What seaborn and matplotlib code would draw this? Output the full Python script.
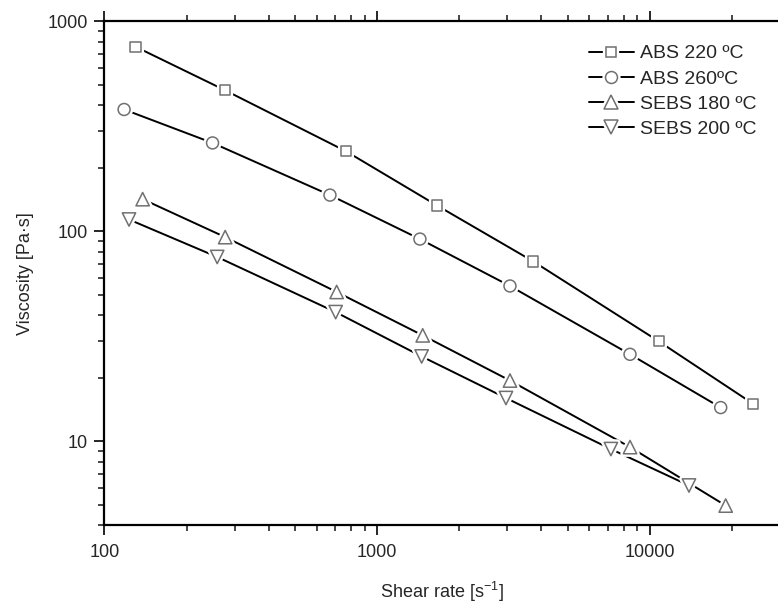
import numpy as np
import pandas as pd
import matplotlib
matplotlib.use("Agg")
import matplotlib.pyplot as plt
import matplotlib.ticker as mticker
from matplotlib.lines import Line2D
from matplotlib.legend_handler import HandlerTuple
import seaborn as sns

# ---- data ----
series_names = ["ABS 220 ºC", "ABS 260ºC", "SEBS 180 ºC", "SEBS 200 ºC"]
abs220_x = [130, 277, 768, 1656, 3734, 10760, 23900]
abs220_y = [758, 470, 241, 133, 72, 30, 15.1]
abs260_x = [118, 249, 671, 1434, 3067, 8450, 18170]
abs260_y = [381, 264, 149, 92, 55, 26, 14.5]
sebs180_x = [138, 277, 710, 1468, 3067, 8450, 18950]
sebs180_y = [142.5, 94, 51.5, 32, 19.5, 9.4, 4.95]
sebs200_x = [123, 259, 704, 1455, 2965, 7190, 13900]
sebs200_y = [114, 75.6, 41.3, 25.4, 16.1, 9.2, 6.17]
x_ticks = [100, 1000, 10000]
y_ticks = [10, 100, 1000]

xs = [abs220_x, abs260_x, sebs180_x, sebs200_x]
ys = [abs220_y, abs260_y, sebs180_y, sebs200_y]
df = pd.concat([pd.DataFrame({"shear": x, "visc": y, "series": n})
                for x, y, n in zip(xs, ys, series_names)], ignore_index=True)

marker_map = dict(zip(series_names, ["s", "o", "^", "v"]))
size_pt = dict(zip(series_names, [7.4, 8.6, 9.6, 9.6]))
sizes = {k: v ** 2 for k, v in size_pt.items()}
edge_gray = "#707070"

sns.set_style("ticks")
plt.rcParams["font.family"] = ["Liberation Sans", "DejaVu Sans"]
plt.rcParams["mathtext.default"] = "regular"

fig = plt.figure(figsize=(7.78, 6.05), dpi=100)
ax = fig.add_axes([0.1343, 0.1322, 0.8684, 0.8323])
ax.set_xscale("log")
ax.set_yscale("log")

sns.lineplot(data=df, x="shear", y="visc", hue="series", palette=["black"] * 4,
             estimator=None, sort=False, legend=False, lw=1.4, ax=ax, zorder=2)
sns.scatterplot(data=df, x="shear", y="visc", style="series", markers=marker_map,
                size="series", sizes=sizes, color="white", edgecolor="white",
                linewidth=4.5, legend=False, ax=ax, zorder=3)
sns.scatterplot(data=df, x="shear", y="visc", style="series", markers=marker_map,
                size="series", sizes=sizes, color="white", edgecolor=edge_gray,
                linewidth=1.1, legend=False, ax=ax, zorder=4)

ax.set_xlim(100, 30000)
ax.set_ylim(4, 1000)

fmt = mticker.FuncFormatter(lambda v, p: "%g" % v)
ax.xaxis.set_major_locator(mticker.FixedLocator(x_ticks))
ax.yaxis.set_major_locator(mticker.FixedLocator(y_ticks))
ax.xaxis.set_major_formatter(fmt)
ax.yaxis.set_major_formatter(fmt)
ax.xaxis.set_minor_locator(mticker.LogLocator(base=10, subs=np.arange(2, 10)))
ax.yaxis.set_minor_locator(mticker.LogLocator(base=10, subs=np.arange(2, 10)))
ax.xaxis.set_minor_formatter(mticker.NullFormatter())
ax.yaxis.set_minor_formatter(mticker.NullFormatter())

for s in ax.spines.values():
    s.set_linewidth(1.6)
    s.set_color("black")
ax.tick_params(which="major", direction="out", length=7, width=1.4,
               labelsize=13, pad=5, top=True, right=False)
ax.tick_params(which="minor", direction="out", length=4, width=1.2,
               top=True, right=False)
ax.tick_params(axis="x", which="major", pad=7)

ax.set_xlabel("Shear rate [s$^{-1}$]", fontsize=13, labelpad=13)
ax.set_ylabel("Viscosity [Pa·s]", fontsize=13, labelpad=10)

handles = []
for n in series_names:
    m = marker_map[n]
    ms = size_pt[n]
    handles.append((
        Line2D([], [], color="black", lw=1.4),
        Line2D([], [], ls="none", marker=m, ms=ms, mfc="white", mec="white", mew=4.5),
        Line2D([], [], ls="none", marker=m, ms=ms, mfc="white", mec=edge_gray, mew=1.1),
    ))
leg = ax.legend(handles, series_names, handler_map={tuple: HandlerTuple(ndivide=1, pad=0)},
                loc="upper left", bbox_to_anchor=(0.705, 0.969), frameon=False,
                fontsize=14, handlelength=2.35, handletextpad=0.3, labelspacing=0.39,
                borderaxespad=0)

fig.savefig("out.png", dpi=100)
